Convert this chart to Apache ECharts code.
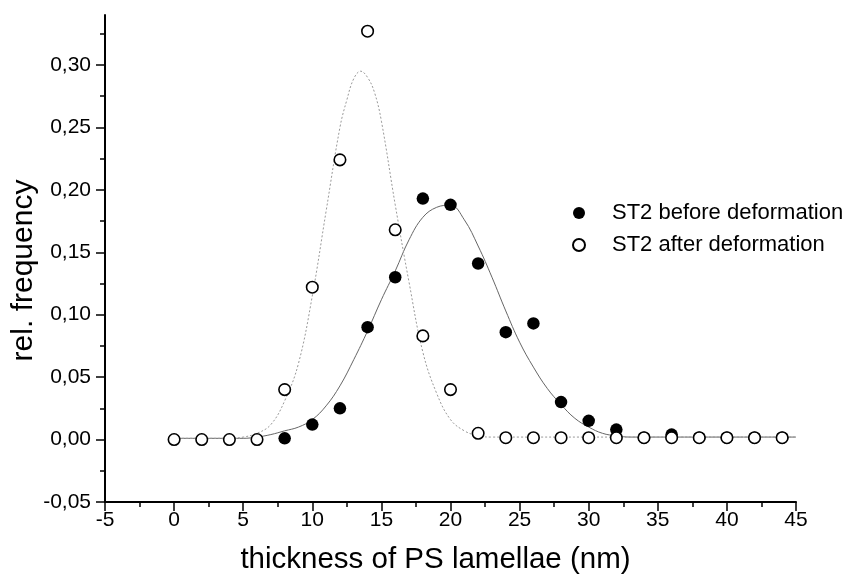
<!DOCTYPE html>
<html>
<head>
<meta charset="utf-8">
<script src="https://cdn.jsdelivr.net/npm/echarts@6/dist/echarts.min.js"></script>
<style>html,body{margin:0;padding:0;background:#fff}#c{width:847px;height:574px}</style>
</head>
<body>
<div id="c"></div>
<script>
// measured points
var beforeX = [8, 10, 12, 14, 16, 18, 20, 22, 24, 26, 28, 30, 32, 34, 36, 38, 40, 42, 44];
var beforeY = [0.001, 0.012, 0.025, 0.090, 0.130, 0.193, 0.188, 0.141, 0.086, 0.093, 0.030, 0.015, 0.008, 0.0015, 0.004, 0.0015, 0.0015, 0.0015, 0.0015];
var afterX = [0, 2, 4, 6, 8, 10, 12, 14, 16, 18, 20, 22, 24, 26, 28, 30, 32, 34, 36, 38, 40, 42, 44];
var afterY = [0.000, 0.000, 0.000, 0.000, 0.040, 0.122, 0.224, 0.327, 0.168, 0.083, 0.040, 0.005, 0.0015, 0.0015, 0.0015, 0.0015, 0.0015, 0.0015, 0.0015, 0.0015, 0.0015, 0.0015, 0.0015];
// fitted curves
var fitBeforeX = [0, 2, 4, 5, 6, 7, 8, 9, 10, 11, 12, 13, 14, 15, 16, 17, 18, 19, 20, 21, 22, 23, 24, 25, 26, 27, 28, 29, 30, 31, 32, 33, 35, 40, 45];
var fitBeforeY = [0.001, 0.001, 0.001, 0.001, 0.002, 0.004, 0.007, 0.010, 0.016, 0.027, 0.043, 0.064, 0.087, 0.112, 0.135, 0.160, 0.178, 0.186, 0.1877, 0.176, 0.155, 0.130, 0.103, 0.078, 0.058, 0.041, 0.028, 0.017, 0.010, 0.005, 0.003, 0.002, 0.002, 0.002, 0.002];
var fitAfterX = [0, 2, 4, 5, 6, 7, 8, 9, 10, 11, 12, 12.5, 13, 13.5, 14, 14.5, 15, 16, 17, 18, 19, 20, 21, 22, 23, 25, 30, 35, 40, 45];
var fitAfterY = [0.001, 0.001, 0.001, 0.002, 0.005, 0.012, 0.031, 0.061, 0.115, 0.183, 0.250, 0.272, 0.289, 0.295, 0.290, 0.278, 0.255, 0.188, 0.126, 0.070, 0.037, 0.016, 0.007, 0.003, 0.002, 0.002, 0.002, 0.002, 0.002, 0.002];
var yTicks = [-0.05, 0, 0.05, 0.10, 0.15, 0.20, 0.25, 0.30];
var nameBefore = 'ST2 before deformation';
var nameAfter = 'ST2 after deformation';

function pairs(xs, ys) { return xs.map(function (x, i) { return [x, ys[i]]; }); }

var chart = echarts.init(document.getElementById('c'), null, {renderer: 'canvas'});
var font = 'Liberation Sans, Arial, sans-serif';
chart.setOption({
  animation: false,
  backgroundColor: '#fff',
  grid: {left: 105, right: 51, top: 15, bottom: 72, containLabel: false, outerBoundsMode: 'none'},
  legend: {
    orient: 'vertical', left: 567, top: 197,
    itemWidth: 12, itemHeight: 12, itemGap: 10,
    data: [nameBefore, nameAfter],
    textStyle: {fontFamily: font, fontSize: 22, color: '#000', lineHeight: 22, padding: [0, 0, 0, 22]}
  },
  xAxis: {
    type: 'value', min: -5, max: 45, interval: 5,
    name: 'thickness of PS lamellae (nm)', nameLocation: 'middle', nameGap: 43, nameMoveOverlap: false,
    nameTextStyle: {fontFamily: font, fontSize: 29.5, color: '#000', padding: [0, 30, 0, 0]},
    axisLine: {show: true, onZero: false, lineStyle: {color: '#000', width: 2}},
    axisTick: {show: true, inside: false, length: 9, lineStyle: {color: '#000', width: 1.5}},
    minorTick: {show: true, splitNumber: 2, length: 5, lineStyle: {color: '#000', width: 1.5}},
    axisLabel: {fontFamily: font, fontSize: 21, color: '#000', margin: 8},
    splitLine: {show: false}
  },
  yAxis: {
    type: 'value', min: -0.05, max: 0.34, interval: 0.05,
    name: 'rel. frequency', nameLocation: 'middle', nameGap: 66, nameMoveOverlap: false,
    nameTextStyle: {fontFamily: font, fontSize: 30, color: '#000', padding: [0, 24, 0, 0]},
    axisLine: {show: true, onZero: false, lineStyle: {color: '#000', width: 2}},
    axisTick: {show: true, inside: false, length: 9, customValues: yTicks, lineStyle: {color: '#000', width: 1.5}},
    minorTick: {show: true, splitNumber: 2, length: 5, lineStyle: {color: '#000', width: 1.5}},
    axisLabel: {fontFamily: font, fontSize: 21, color: '#000', margin: 14, customValues: yTicks,
      formatter: function (v) { return v.toFixed(2).replace('.', ','); }},
    splitLine: {show: false}
  },
  series: [
    {type: 'line', name: 'fitBefore', data: pairs(fitBeforeX, fitBeforeY), smooth: 0.4, showSymbol: false, silent: true,
      lineStyle: {color: '#666', width: 1}, z: 1},
    {type: 'line', name: 'fitAfter', data: pairs(fitAfterX, fitAfterY), smooth: 0.4, showSymbol: false, silent: true,
      lineStyle: {color: '#999', width: 1, type: [2, 2]}, z: 1},
    {type: 'scatter', name: nameBefore, data: pairs(beforeX, beforeY), symbol: 'circle', symbolSize: 12.5,
      itemStyle: {color: '#000', opacity: 1}, z: 3},
    {type: 'scatter', name: nameAfter, data: pairs(afterX, afterY), symbol: 'circle', symbolSize: 11.5,
      itemStyle: {color: '#fff', borderColor: '#000', borderWidth: 1.6, opacity: 1}, z: 4}
  ]
});
</script>
</body>
</html>
